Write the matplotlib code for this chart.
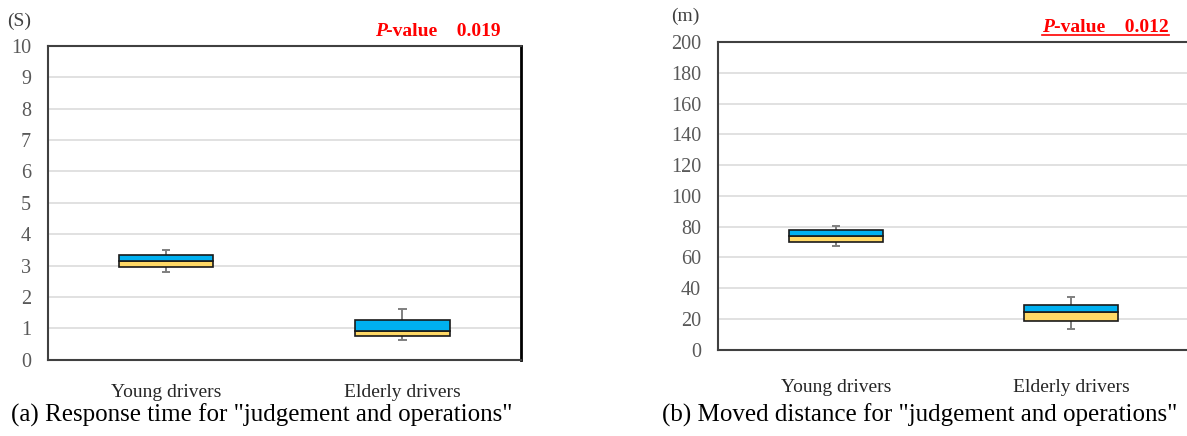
from matplotlib import pyplot as plt
from matplotlib.lines import Line2D

plt.rcParams['font.family'] = ['Liberation Serif', 'DejaVu Serif']

groups = ['Young drivers', 'Elderly drivers']

# response time (s): lower whisker, Q1, median, Q3, upper whisker
time_lo = [2.80, 0.62]
time_q1 = [2.97, 0.74]
time_med = [3.14, 0.93]
time_q3 = [3.34, 1.28]
time_hi = [3.50, 1.62]

# moved distance (m)
dist_lo = [67.4, 13.7]
dist_q1 = [70.0, 18.9]
dist_med = [73.6, 24.4]
dist_q3 = [77.5, 29.1]
dist_hi = [80.4, 34.5]

p_time = '0.019'
p_dist = '0.012'

BLUE = '#00B0F0'
YELLOW = '#FFD966'
TICK = '#595959'


def box_panel(ax, lo, q1, med, q3, hi, ymax, step, xlim):
    x = list(range(len(groups)))
    ax.vlines(x, lo, hi, color='#7F7F7F', lw=1.4, zorder=2)
    ax.hlines(lo, [i - 0.018 for i in x], [i + 0.018 for i in x], color='#7F7F7F', lw=1.4, zorder=2)
    ax.hlines(hi, [i - 0.018 for i in x], [i + 0.018 for i in x], color='#7F7F7F', lw=1.4, zorder=2)
    low_h = [m - a for m, a in zip(med, q1)]
    up_h = [b - m for b, m in zip(q3, med)]
    ax.bar(x, low_h, bottom=q1, width=0.4, color=YELLOW, edgecolor='#1a1a1a', lw=1.2, zorder=3)
    ax.bar(x, up_h, bottom=med, width=0.4, color=BLUE, edgecolor='#1a1a1a', lw=1.2, zorder=3)
    ax.set_xlim(*xlim)
    ax.set_ylim(0, ymax)
    ax.set_yticks(range(0, ymax + 1, step))
    ax.set_xticks(x)
    ax.set_xticklabels(groups, fontsize=14, color='#262626')
    ax.tick_params(axis='y', length=0, labelsize=14.5, labelcolor=TICK, pad=12)
    ax.tick_params(axis='x', length=0, pad=17.5)
    ax.grid(axis='y', color='#D9D9D9', lw=1.1, zorder=0)
    ax.set_axisbelow(True)
    for s in ax.spines.values():
        s.set_color('#404040')
        s.set_linewidth(1.5)


fig = plt.figure(figsize=(11.87, 4.36), dpi=100)

ax1 = fig.add_axes([0.0402, 0.175, 0.3985, 0.7195])
box_panel(ax1, time_lo, time_q1, time_med, time_q3, time_hi, 10, 1, (-0.5, 1.5))
ax1.spines['right'].set_color('#000000')
ax1.spines['right'].set_linewidth(2)

ax2 = fig.add_axes([0.6046, 0.198, 0.3954, 0.7057])
box_panel(ax2, dist_lo, dist_q1, dist_med, dist_q3, dist_hi, 200, 20, (-0.503, 1.494))
ax2.spines['right'].set_visible(False)
ax2.tick_params(axis='x', pad=21)

fig.text(0.006, 0.952, '(S)', fontsize=14, color='#404040', va='center')
fig.text(0.565, 0.963, '(m)', fontsize=14, color='#404040', va='center')


def p_label(x, y, value):
    t = fig.text(x, y, 'P', fontsize=14, color='red', weight='bold', style='italic', va='center')
    t2 = fig.text(0, 0, '-value    ' + value, fontsize=14, color='red', weight='bold',
                  va='center', ha='left')
    # place the rest right after the italic P
    t2.remove()
    t3 = plt.annotate('-value    ' + value, xy=(1, 0.5), xycoords=t, va='center', ha='left',
                      fontsize=14, color='red', weight='bold', annotation_clip=False)
    return t, t3


p_label(0.3156, 0.927, p_time)
tp, tv = p_label(0.878, 0.938, p_dist)

fig.text(0.2208, 0.047, '(a) Response time for "judgement and operations"', fontsize=18,
         ha='center', va='center', color='black')
fig.text(0.775, 0.047, '(b) Moved distance for "judgement and operations"', fontsize=18,
         ha='center', va='center', color='black')

# underline under the second p-value
fig.canvas.draw()
r = fig.canvas.get_renderer()
b1 = tp.get_window_extent(r)
b2 = tv.get_window_extent(r)
W, H = fig.bbox.width, fig.bbox.height
yl = (b1.y0 + 1) / H
fig.add_artist(Line2D([b1.x0 / W, b2.x1 / W], [yl, yl], color='red', lw=1.2))

fig.savefig('out.png', dpi=100)
